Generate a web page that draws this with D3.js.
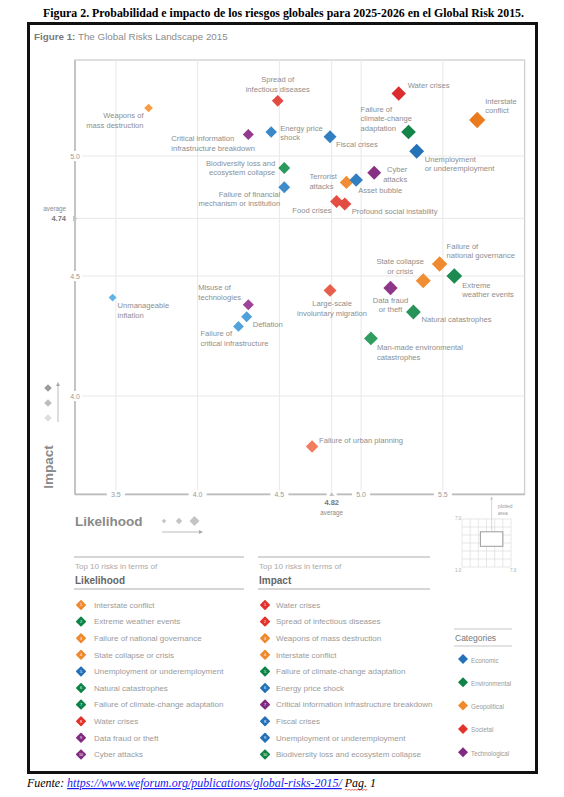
<!DOCTYPE html>
<html>
<head>
<meta charset="utf-8">
<script src="https://cdn.jsdelivr.net/npm/d3@7"></script>
<style>
    body { margin: 0; background: #fff; }
    text { font-family: "Liberation Sans", Arial, sans-serif; }
    .serif { font-family: "Liberation Serif", "Times New Roman", serif; }
</style>
</head>
<body>
<script>

    // ---- data ----
    var categories = ["Economic", "Environmental", "Geopolitical", "Societal", "Technological"];

    var risks = [
        "Weapons of mass destruction", "Spread of infectious diseases",
        "Critical information infrastructure breakdown", "Energy price shock",
        "Biodiversity loss and ecosystem collapse", "Failure of financial mechanism or institution",
        "Water crises", "Interstate conflict", "Failure of climate-change adaptation",
        "Fiscal crises", "Unemployment or underemployment", "Cyber attacks",
        "Terrorist attacks", "Asset bubble", "Food crises", "Profound social instability",
        "Unmanageable inflation", "Misuse of technologies", "Deflation",
        "Failure of critical infrastructure", "Large-scale involuntary migration",
        "Data fraud or theft", "State collapse or crisis", "Failure of national governance",
        "Extreme weather events", "Natural catastrophes",
        "Man-made environmental catastrophes", "Failure of urban planning"
    ];

    var riskCategory = [
        "Geopolitical", "Societal", "Technological", "Economic", "Environmental", "Economic",
        "Societal", "Geopolitical", "Environmental", "Economic", "Economic", "Technological",
        "Geopolitical", "Economic", "Societal", "Societal", "Economic", "Technological",
        "Economic", "Economic", "Societal", "Technological", "Geopolitical", "Geopolitical",
        "Environmental", "Environmental", "Environmental", "Societal"
    ];

    var likelihood = [3.70, 4.49, 4.31, 4.45, 4.53, 4.53, 5.23, 5.71, 5.29, 4.81, 5.34, 5.08,
        4.91, 4.97, 4.85, 4.90, 3.48, 4.31, 4.30, 4.25, 4.81, 5.18, 5.38, 5.48, 5.57, 5.32, 5.06, 4.70];

    var impact = [5.20, 5.23, 5.09, 5.10, 4.95, 4.87, 5.26, 5.15, 5.10, 5.08, 5.02, 4.93,
        4.89, 4.90, 4.81, 4.80, 4.41, 4.38, 4.33, 4.29, 4.44, 4.45, 4.48, 4.55, 4.50, 4.35, 4.24, 3.79];

    // labels as printed on the chart ("|" = line break)
    var riskLabels = [
        "Weapons of|mass destruction", "Spread of|infectious diseases",
        "Critical information|infrastructure breakdown", "Energy price|shock",
        "Biodiversity loss and|ecosystem collapse", "Failure of financial|mechanism or institution",
        "Water crises", "Interstate|conflict", "Failure of|climate-change|adaptation",
        "Fiscal crises", "Unemployment|or underemployment", "Cyber|attacks",
        "Terrorist|attacks", "Asset bubble", "Food crises", "Profound social instability",
        "Unmanageable|inflation", "Misuse of|technologies", "Deflation",
        "Failure of|critical infrastructure", "Large-scale|involuntary migration",
        "Data fraud|or theft", "State collapse|or crisis", "Failure of|national governance",
        "Extreme|weather events", "Natural catastrophes",
        "Man-made environmental|catastrophes", "Failure of urban planning"
    ];

    var xTicks = [3.5, 4.0, 4.5, 5.0, 5.5];
    var yTicks = [4.0, 4.5, 5.0];
    var avgLikelihood = 4.82;
    var avgImpact = 4.74;

    var topLikelihood = ["Interstate conflict", "Extreme weather events", "Failure of national governance",
        "State collapse or crisis", "Unemployment or underemployment", "Natural catastrophes",
        "Failure of climate-change adaptation", "Water crises", "Data fraud or theft", "Cyber attacks"];

    var topImpact = ["Water crises", "Spread of infectious diseases", "Weapons of mass destruction",
        "Interstate conflict", "Failure of climate-change adaptation", "Energy price shock",
        "Critical information infrastructure breakdown", "Fiscal crises",
        "Unemployment or underemployment", "Biodiversity loss and ecosystem collapse"];

    // ---- layout / style ----
    // label offset from the diamond: dx, dy (first baseline), anchor
    var labelPos = [
        [-5, 10, "end"], [0, -18.5, "middle"], [-77, 6.5, "start"], [9, -1.5, "start"],
        [-9, -2.5, "end"], [-4, 9.5, "end"], [9, -5.5, "start"], [8, -16.5, "start"],
        [-48, -20.5, "start"], [6, 10.5, "start"], [8, 10.5, "start"], [33, -0.5, "end"],
        [-37, -3.5, "start"], [2, 12.5, "start"], [-5, 11.5, "end"], [7, 9.5, "start"],
        [5, 10.5, "start"], [-50, -14.5, "start"], [6, 10.5, "start"], [-38, 9.5, "start"],
        [2, 15.5, "middle"], [0, 14.5, "middle"], [-23, -16.5, "middle"], [7, -15.5, "start"],
        [8, 11.5, "start"], [8, 9.5, "start"], [6, 11.5, "start"], [7, -3.5, "start"]
    ];

    var darkColor = { Economic: "#1864ad", Environmental: "#08793d", Geopolitical: "#ec7a1f", Societal: "#d61d27", Technological: "#772276" };
    var lightColor = { Economic: "#62b3e8", Environmental: "#52bb7e", Geopolitical: "#f9b05a", Societal: "#f7936c", Technological: "#ad52a6" };
    var catColor = { Economic: "#2471b9", Environmental: "#0d8446", Geopolitical: "#ef8a2c", Societal: "#e3312b", Technological: "#812a80" };

    function diamond(h) {
        return "M0," + (-h) + "L" + h + ",0L0," + h + "L" + (-h) + ",0Z";
    }

    var svg = d3.select('body')
        .append('svg')
        .attr('width', 564)
        .attr('height', 797);

    // page caption
    svg.append('text')
        .attr('class', 'serif')
        .attr('x', 43).attr('y', 17)
        .attr('textLength', 481).attr('lengthAdjust', 'spacingAndGlyphs')
        .style('font-size', '12.5px').style('font-weight', 'bold')
        .text("Figura 2. Probabilidad e impacto de los riesgos globales para 2025-2026 en el Global Risk 2015.");

    // black frame
    svg.append('rect')
        .attr('x', 28.5).attr('y', 23.5).attr('width', 508).attr('height', 749)
        .attr('fill', 'none').attr('stroke', '#111').attr('stroke-width', 3);

    var title = svg.append('text').attr('x', 34).attr('y', 40).style('font-size', '9.8px');
    title.append('tspan').style('font-weight', 'bold').attr('fill', '#7a7a7a').text("Figure 1:");
    title.append('tspan').attr('fill', '#8c8c8c').text(" The Global Risks Landscape 2015");

    // ---- scales ----
    var x = d3.scaleLinear().domain([3.25, 6.0]).range([75, 524.6]);
    var y = d3.scaleLinear().domain([3.59, 5.4]).range([494.4, 60]);
    var size = d3.scaleLinear().domain([3.5, 5.8]).range([4, 8.3]);
    var shade = d3.scaleLinear().domain([7.9, 10.9]).range([0, 1]).clamp(true);

    var x0 = x.range()[0], x1 = x.range()[1], y0 = y.range()[0], y1 = y.range()[1];

    // plot frame
    svg.append('rect')
        .attr('x', x0).attr('y', y1).attr('width', x1 - x0).attr('height', y0 - y1)
        .attr('fill', 'none').attr('stroke', '#cfcfcf').attr('stroke-width', 1.3);

    // grid
    var g = svg.append('g');
    g.selectAll('.vg').data(xTicks.concat([avgLikelihood])).enter().append('line')
        .attr('x1', d => x(d)).attr('x2', d => x(d)).attr('y1', y1).attr('y2', y0)
        .attr('stroke', '#e8e8e8').attr('stroke-width', 1);
    g.selectAll('.hg').data(yTicks.concat([avgImpact])).enter().append('line')
        .attr('x1', x0).attr('x2', x1).attr('y1', d => y(d)).attr('y2', d => y(d))
        .attr('stroke', '#e8e8e8').attr('stroke-width', 1);

    // axis lines
    svg.append('line').attr('x1', x0).attr('x2', x0).attr('y1', y1).attr('y2', y0)
        .attr('stroke', '#bdbdbd').attr('stroke-width', 1.6);
    svg.append('line').attr('x1', x0).attr('x2', x1).attr('y1', y0).attr('y2', y0)
        .attr('stroke', '#bdbdbd').attr('stroke-width', 1.6);

    // tick labels sitting on the axis lines
    xTicks.forEach(function (v) {
        svg.append('rect').attr('x', x(v) - 9).attr('y', y0 - 4).attr('width', 18).attr('height', 8).attr('fill', '#fff');
        svg.append('text').attr('x', x(v)).attr('y', y0 + 2.5).attr('text-anchor', 'middle')
            .style('font-size', '7px').attr('fill', '#9a9a9a').text(v.toFixed(1));
    });
    yTicks.forEach(function (v) {
        svg.append('rect').attr('x', x0 - 7).attr('y', y(v) - 5).attr('width', 14).attr('height', 10).attr('fill', '#fff');
        svg.append('text').attr('x', x0).attr('y', y(v) + 2.5).attr('text-anchor', 'middle')
            .style('font-size', '7px').attr('fill', '#9a9a9a').text(v.toFixed(1));
    });

    // averages
    svg.append('path')
        .attr('d', "M" + (x0 - 2) + "," + (y(avgImpact) - 3) + "L" + (x0 + 2.5) + "," + y(avgImpact) + "L" + (x0 - 2) + "," + (y(avgImpact) + 3) + "Z")
        .attr('fill', '#c4c4c4');
    svg.append('text').attr('x', 66).attr('y', y(avgImpact) - 7.5).attr('text-anchor', 'end')
        .style('font-size', '6.3px').attr('fill', '#8a8a8a').text("average");
    svg.append('text').attr('x', 66).attr('y', y(avgImpact) + 2.5).attr('text-anchor', 'end')
        .style('font-size', '7.5px').style('font-weight', 'bold').attr('fill', '#777').text(avgImpact.toFixed(2));

    svg.append('rect').attr('x', x(avgLikelihood) - 5).attr('y', y0 - 3).attr('width', 10).attr('height', 5).attr('fill', '#fff');
    svg.append('path')
        .attr('d', "M" + (x(avgLikelihood) - 2.5) + "," + (y0 + 1.5) + "L" + x(avgLikelihood) + "," + (y0 - 2.5) + "L" + (x(avgLikelihood) + 2.5) + "," + (y0 + 1.5) + "Z")
        .attr('fill', '#c4c4c4');
    svg.append('text').attr('x', x(avgLikelihood)).attr('y', y0 + 11).attr('text-anchor', 'middle')
        .style('font-size', '7.5px').style('font-weight', 'bold').attr('fill', '#777').text(avgLikelihood.toFixed(2));
    svg.append('text').attr('x', x(avgLikelihood)).attr('y', y0 + 21).attr('text-anchor', 'middle')
        .style('font-size', '6.3px').attr('fill', '#8a8a8a').text("average");

    // ---- risks ----
    var pts = risks.map(function (r, i) {
        return { name: r, cat: riskCategory[i], l: likelihood[i], im: impact[i], label: riskLabels[i], pos: labelPos[i] };
    });

    svg.selectAll('.risk').data(pts).enter().append('path')
        .attr('transform', d => "translate(" + x(d.l) + "," + y(d.im) + ")")
        .attr('d', d => diamond(size(d.l)))
        .attr('fill', d => d3.interpolateRgb(lightColor[d.cat], darkColor[d.cat])(shade(d.l + d.im)));

    pts.forEach(function (d) {
        var t = svg.append('text')
            .attr('x', x(d.l) + d.pos[0]).attr('y', y(d.im) + d.pos[1])
            .attr('text-anchor', d.pos[2])
            .style('font-size', '7.6px').attr('fill', '#8e8e8e');
        d.label.split("|").forEach(function (line, k) {
            t.append('tspan').attr('x', x(d.l) + d.pos[0]).attr('dy', k ? 9.7 : 0).text(line);
        });
    });

    // ---- axis titles and size/shade keys ----
    svg.append('text')
        .attr('transform', 'translate(53,467) rotate(-90)')
        .attr('text-anchor', 'middle')
        .style('font-size', '13.5px').style('font-weight', 'bold').attr('fill', '#8a8a8a')
        .text("Impact");
    ["#9c9c9c", "#bdbdbd", "#dedede"].forEach(function (c, k) {
        svg.append('path').attr('transform', 'translate(48,' + (388 + k * 15) + ')').attr('d', diamond(3.8)).attr('fill', c);
    });
    svg.append('line').attr('x1', 58).attr('x2', 58).attr('y1', 422).attr('y2', 384).attr('stroke', '#aaa').attr('stroke-width', 0.8);
    svg.append('path').attr('d', 'M56,386L58,382L60,386Z').attr('fill', '#aaa');

    svg.append('text').attr('x', 75).attr('y', 526)
        .style('font-size', '13.5px').style('font-weight', 'bold').attr('fill', '#8a8a8a')
        .text("Likelihood");
    [[164, 2.2], [179, 3.2], [194.5, 5]].forEach(function (p) {
        svg.append('path').attr('transform', 'translate(' + p[0] + ',521)').attr('d', diamond(p[1])).attr('fill', '#c4c4c4');
    });
    svg.append('line').attr('x1', 162).attr('x2', 201).attr('y1', 532).attr('y2', 532).attr('stroke', '#aaa').attr('stroke-width', 0.8);
    svg.append('path').attr('d', 'M199,530L203,532L199,534Z').attr('fill', '#aaa');

    // ---- plotted area inset ----
    var ix = d3.scaleLinear().domain([1, 7]).range([462, 511]);
    var iy = d3.scaleLinear().domain([1, 7]).range([567, 519]);
    d3.range(1, 8).forEach(function (v) {
        svg.append('line').attr('x1', ix(v)).attr('x2', ix(v)).attr('y1', iy(1)).attr('y2', iy(7)).attr('stroke', '#dcdcdc').attr('stroke-width', 0.7);
        svg.append('line').attr('x1', ix(1)).attr('x2', ix(7)).attr('y1', iy(v)).attr('y2', iy(v)).attr('stroke', '#dcdcdc').attr('stroke-width', 0.7);
    });
    var xd = x.domain(), yd = y.domain();
    svg.append('rect')
        .attr('x', ix(xd[0])).attr('y', iy(yd[1])).attr('width', ix(xd[1]) - ix(xd[0])).attr('height', iy(yd[0]) - iy(yd[1]))
        .attr('fill', '#fff').attr('stroke', '#9a9a9a').attr('stroke-width', 1);
    var ax = (ix(xd[0]) + ix(xd[1])) / 2;
    svg.append('line').attr('x1', ax).attr('x2', ax).attr('y1', iy(yd[1])).attr('y2', y0 + 3).attr('stroke', '#c8c8c8').attr('stroke-width', 0.7);
    svg.append('path').attr('d', 'M' + (ax - 1.5) + ',' + (y0 + 5) + 'L' + ax + ',' + (y0 + 2) + 'L' + (ax + 1.5) + ',' + (y0 + 5) + 'Z').attr('fill', '#c8c8c8');
    svg.append('text').attr('x', 498).attr('y', 508).style('font-size', '4.8px').attr('fill', '#999').text("plotted");
    svg.append('text').attr('x', 498).attr('y', 515).style('font-size', '4.8px').attr('fill', '#999').text("area");
    svg.append('text').attr('x', 455).attr('y', 520).style('font-size', '4.5px').attr('fill', '#aaa').text("7.0");
    svg.append('text').attr('x', 455).attr('y', 572).style('font-size', '4.5px').attr('fill', '#aaa').text("1.0");
    svg.append('text').attr('x', 510).attr('y', 572).style('font-size', '4.5px').attr('fill', '#aaa').text("7.0");

    // ---- top 10 lists ----
    var catOf = {};
    risks.forEach(function (r, i) { catOf[r] = riskCategory[i]; });

    function topList(names, heading, left, right, textX) {
        svg.append('line').attr('x1', left).attr('x2', right).attr('y1', 557).attr('y2', 557).attr('stroke', '#c8c8c8').attr('stroke-width', 1.3);
        svg.append('text').attr('x', left + 1).attr('y', 569).style('font-size', '8px').attr('fill', '#aaa').text("Top 10 risks in terms of");
        svg.append('text').attr('x', left + 1).attr('y', 584).style('font-size', '10px').style('font-weight', 'bold').attr('fill', '#666').text(heading);
        svg.append('line').attr('x1', left).attr('x2', right).attr('y1', 589).attr('y2', 589).attr('stroke', '#c8c8c8').attr('stroke-width', 1.3);
        names.forEach(function (n, k) {
            var cy = 605 + k * 16.6;
            var c = catColor[catOf[n]];
            svg.append('path').attr('transform', 'translate(' + (left + 7) + ',' + cy + ')').attr('d', diamond(4.2))
                .attr('fill', c).attr('stroke', c).attr('stroke-width', 1.6).attr('stroke-linejoin', 'round');
            svg.append('text').attr('x', left + 7).attr('y', cy + 1.4).attr('text-anchor', 'middle')
                .style('font-size', '3.8px').attr('fill', '#fff').text(k + 1);
            svg.append('text').attr('x', textX).attr('y', cy + 2.8).style('font-size', '8px').attr('fill', '#9a9a9a').text(n);
        });
    }
    topList(topLikelihood, "Likelihood", 74, 244, 94);
    topList(topImpact, "Impact", 258, 430, 276);

    // ---- categories legend ----
    svg.append('line').attr('x1', 454).attr('x2', 512).attr('y1', 629).attr('y2', 629).attr('stroke', '#c8c8c8').attr('stroke-width', 1.2);
    svg.append('text').attr('x', 455).attr('y', 641).style('font-size', '8.5px').attr('fill', '#777').text("Categories");
    svg.append('line').attr('x1', 454).attr('x2', 512).attr('y1', 646).attr('y2', 646).attr('stroke', '#c8c8c8').attr('stroke-width', 1.2);
    categories.forEach(function (c, k) {
        var cy = 659 + k * 23.3;
        svg.append('path').attr('transform', 'translate(463,' + cy + ')').attr('d', diamond(5)).attr('fill', catColor[c]);
        svg.append('text').attr('x', 471).attr('y', cy + 3.5).style('font-size', '6.3px').attr('fill', '#9a9a9a').text(c);
    });

    // ---- source line ----
    var src = svg.append('text').attr('class', 'serif').attr('x', 27).attr('y', 787)
        .attr('textLength', 349).attr('lengthAdjust', 'spacingAndGlyphs')
        .style('font-size', '12px').style('font-style', 'italic');
    src.append('tspan').text("Fuente: ");
    src.append('tspan').attr('fill', '#1a1aee').attr('text-decoration', 'underline').text("https://www.weforum.org/publications/global-risks-2015/");
    src.append('tspan').text(" Pag. 1");

    // spell-check squiggle under "Pag."
    var full = "Fuente: https://www.weforum.org/publications/global-risks-2015/ Pag. 1";
    var pi = full.indexOf("Pag.");
    var sx0 = src.node().getStartPositionOfChar(pi).x;
    var sx1 = src.node().getEndPositionOfChar(pi + 3).x;
    var sq = "M" + sx0 + ",790";
    for (var sxx = sx0, up = true; sxx < sx1; sxx += 1.5, up = !up) {
        sq += "L" + (sxx + 1.5) + "," + (up ? 789 : 790.5);
    }
    svg.append('path').attr('d', sq).attr('fill', 'none').attr('stroke', '#e22').attr('stroke-width', 0.7);

</script>
</body>
</html>
